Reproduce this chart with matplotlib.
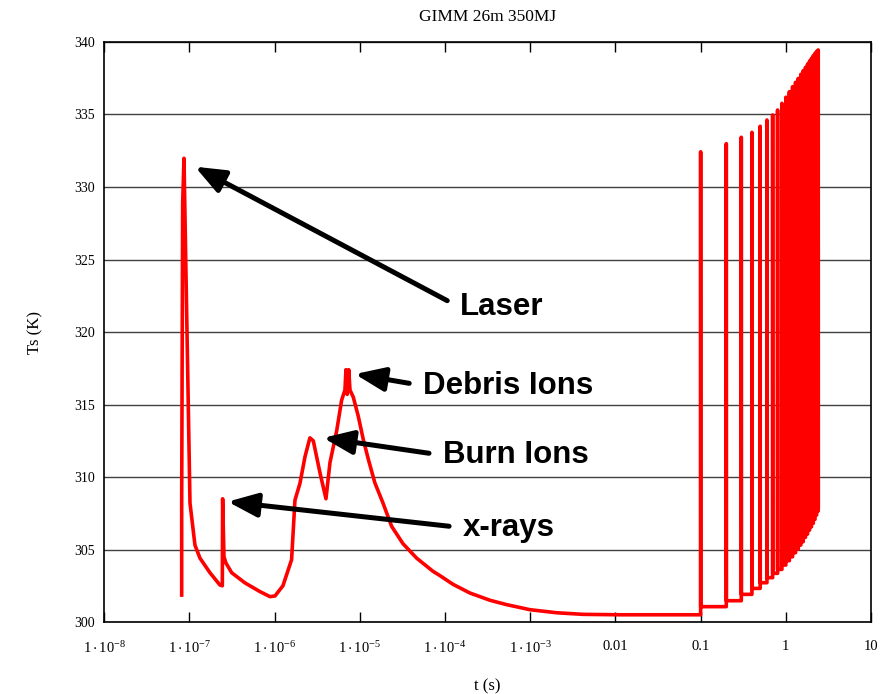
import numpy as np
import matplotlib
matplotlib.use("Agg")
import matplotlib.pyplot as plt

plt.rcParams['font.family'] = ['Liberation Serif', 'DejaVu Serif']
plt.rcParams['mathtext.fontset'] = 'custom'
plt.rcParams['mathtext.rm'] = 'Liberation Serif'
plt.rcParams['mathtext.it'] = 'Liberation Serif:italic'

# surface temperature after one shot (single-shot part)
t_shot = [8.1e-8, 8.1e-8, 8.32e-8, 8.62e-8, 1.014e-7, 1.16e-7, 1.33e-7, 1.74e-7,
          2.28e-7, 2.43e-7, 2.45e-7, 2.54e-7, 2.68e-7, 3.13e-7, 4.48e-7, 6.71e-7,
          8.81e-7, 1.01e-6, 1.25e-6, 1.58e-6, 1.73e-6, 1.98e-6, 2.27e-6, 2.59e-6,
          2.84e-6, 3.40e-6, 4.0e-6, 4.46e-6, 5.35e-6, 6.11e-6, 6.68e-6, 6.87e-6,
          7.11e-6, 7.40e-6, 7.66e-6, 8.38e-6, 9.57e-6, 1.10e-5, 1.26e-5, 1.50e-5,
          1.87e-5, 2.36e-5, 3.21e-5, 4.65e-5, 7.21e-5, 8.71e-5, 1.24e-4, 1.96e-4,
          3.37e-4, 5.28e-4, 9.93e-4, 2.04e-3, 4.16e-3, 0.0113, 0.0999]
T_shot = [301.86, 308.2, 328.9, 331.98, 308.2, 305.3, 304.4, 303.4,
          302.55, 302.5, 308.5, 304.5, 304.07, 303.4, 302.7, 302.1,
          301.75, 301.8, 302.5, 304.3, 308.4, 309.56, 311.4, 312.7,
          312.5, 310.3, 308.5, 311.0, 313.2, 315.3, 316.0, 317.4,
          315.7, 317.4, 316.0, 315.5, 314.2, 312.55, 311.2, 309.6,
          308.2, 306.6, 305.4, 304.4, 303.5, 303.2, 302.6, 302.0,
          301.5, 301.2, 300.85, 300.64, 300.53, 300.5, 300.5]

# following shots (10 Hz): peak temperature and floor temperature after each shot
pulse_t = [0.1, 0.2, 0.3, 0.4, 0.5, 0.6, 0.7, 0.8, 0.9, 1.0, 1.1, 1.2,
           1.3, 1.4, 1.5, 1.6, 1.7, 1.8, 1.9, 2.0, 2.1, 2.2, 2.3, 2.4]
pulse_peak = [332.43, 332.99, 333.43, 333.77, 334.19, 334.62, 334.97, 335.31,
              335.77, 336.19, 336.57, 336.92, 337.22, 337.49, 337.77, 338.02,
              338.25, 338.48, 338.69, 338.87, 339.06, 339.22, 339.36, 339.45]
pulse_base = [301.06, 301.47, 301.91, 302.32, 302.71, 303.06, 303.36, 303.63,
              303.93, 304.23, 304.50, 304.78, 305.03, 305.31, 305.54, 305.84,
              306.07, 306.34, 306.57, 306.81, 307.08, 307.38, 307.66, 307.95]

xtick_vals = [1e-8, 1e-7, 1e-6, 1e-5, 1e-4, 1e-3, 0.01, 0.1, 1, 10]
xtick_labels = [r'$\mathregular{1\cdot10^{-8}}$', r'$\mathregular{1\cdot10^{-7}}$',
                r'$\mathregular{1\cdot10^{-6}}$', r'$\mathregular{1\cdot10^{-5}}$',
                r'$\mathregular{1\cdot10^{-4}}$', r'$\mathregular{1\cdot10^{-3}}$',
                '0.01', '0.1', '1', '10']
ytick_vals = [300, 305, 310, 315, 320, 325, 330, 335, 340]

# annotations: (label, arrow tip t, arrow tip T, text t, text T)
notes = [("Laser", 1.16e-7, 331.4, 1.49e-4, 321.7),
         ("Debris Ions", 8.76e-6, 317.1, 5.5e-5, 316.3),
         ("Burn Ions", 3.72e-6, 312.7, 9.4e-5, 311.5),
         ("x-rays", 2.81e-7, 308.3, 1.62e-4, 306.5)]

# build the full trace: single shot then the stepped pulse train
t_all = list(t_shot)
T_all = list(T_shot)
prev = T_shot[-1]
for t, pk, b in zip(pulse_t, pulse_peak, pulse_base):
    t_all += [t, t, t * 1.002]
    T_all += [prev, pk, b]
    prev = b

fig = plt.figure(figsize=(8.86, 6.94), dpi=100)
ax = fig.add_axes([0.1177, 0.1037, 0.8654, 0.8358])

ax.plot(t_all, T_all, color='#ff0000', lw=2.6, solid_joinstyle='round', zorder=3)

ax.set_xscale('log')
ax.set_xlim(1e-8, 10)
ax.set_ylim(300, 340)
ax.set_xticks(xtick_vals)
ax.set_xticklabels(xtick_labels, fontsize=10.5)
ax.minorticks_off()
ax.set_yticks(ytick_vals)
ax.set_yticklabels([str(v) for v in ytick_vals], fontsize=10)
ax.tick_params(axis='x', direction='in', length=7, width=1, top=True, pad=13)
ax.tick_params(axis='y', length=0, pad=7)
ax.yaxis.grid(True, color='0.25', lw=1.0)
ax.set_axisbelow(True)
for s in ax.spines.values():
    s.set_linewidth(1.2)

ax.set_title("GIMM 26m 350MJ", fontsize=12.5, pad=15)
ax.set_xlabel("t (s)", fontsize=12, labelpad=16)
ax.set_ylabel("Ts (K)", fontsize=12, labelpad=22)

for label, tx, ty, lx, ly in notes:
    ax.annotate(label, xy=(tx, ty), xytext=(lx, ly), ha='left', va='center',
                fontsize=22.5, fontweight='bold', family='Liberation Sans',
                arrowprops=dict(arrowstyle='-|>,head_length=0.75,head_width=0.3',
                                color='black', lw=3.6,
                                mutation_scale=24, shrinkA=8, shrinkB=0,
                                relpos=(0, 0.5)),
                zorder=5)

fig.savefig('out.png', dpi=100)
